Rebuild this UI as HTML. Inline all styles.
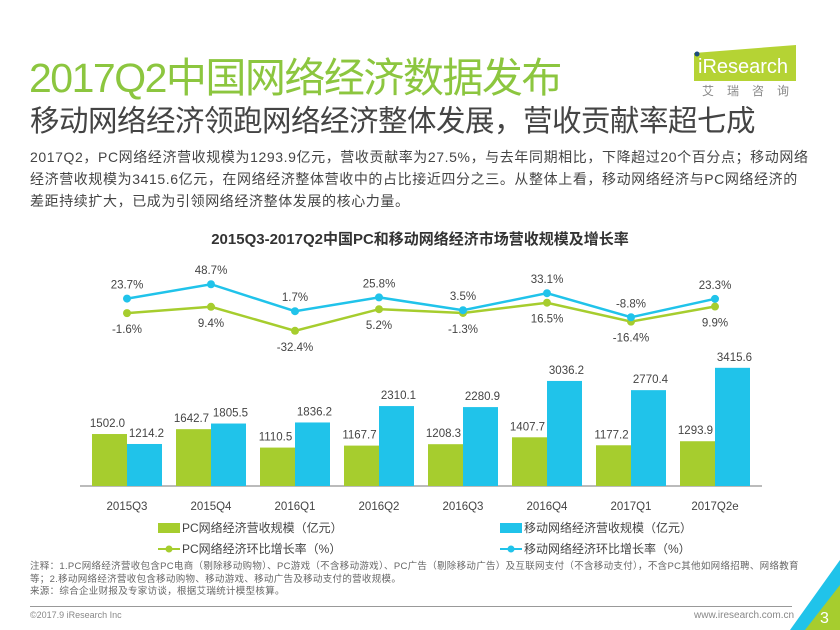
<!DOCTYPE html>
<html><head><meta charset="utf-8">
<style>
body{margin:0;width:840px;height:630px;background:#fff;overflow:hidden;font-family:"Liberation Sans","Noto Sans CJK SC",sans-serif;position:relative}
.abs{position:absolute}
</style></head><body>
<div class="abs" style="left:29px;top:44px;font-size:41px;color:#8cc63f;letter-spacing:-1.5px;white-space:nowrap">2017Q2中国网络经济数据发布</div>
<div class="abs" style="left:690px;top:45px;width:106px;height:36px">
<svg width="106" height="36"><polygon points="4,8 106,0 106,36 4,36" fill="#b5d334"/><circle cx="7" cy="9" r="2.5" fill="#1b4b7e"/><text x="8" y="28" font-size="20" fill="#fff" font-family="Liberation Sans,sans-serif">iResearch</text></svg>
</div>
<div class="abs" style="left:702px;top:82px;font-size:12px;color:#888;letter-spacing:13px">艾瑞咨询</div>
<div class="abs" style="left:30px;top:98px;font-size:29.5px;color:#444;white-space:nowrap;letter-spacing:-0.5px">移动网络经济领跑网络经济整体发展，营收贡献率超七成</div>
<div class="abs" style="left:30px;top:146px;font-size:14px;line-height:22px;color:#444;white-space:nowrap;letter-spacing:0.6px">2017Q2，PC网络经济营收规模为1293.9亿元，营收贡献率为27.5%，与去年同期相比，下降超过20个百分点；移动网络<br>经济营收规模为3415.6亿元，在网络经济整体营收中的占比接近四分之三。从整体上看，移动网络经济与PC网络经济的<br>差距持续扩大，已成为引领网络经济整体发展的核心力量。</div>
<div class="abs" style="left:0;width:840px;top:228px;text-align:center;font-size:15px;font-weight:bold;color:#333">2015Q3-2017Q2中国PC和移动网络经济市场营收规模及增长率</div>
<svg class="abs" id="chart" style="left:0;top:0" width="840" height="630"></svg>
<div class="abs" style="left:0;top:0;width:840px;height:630px;font-size:12px;color:#444">
<div class="abs" style="left:158px;top:519px"><span style="display:inline-block;width:22px;height:10px;background:#a6cd2e;vertical-align:-1px;margin-right:2px"></span>PC网络经济营收规模（亿元）</div>
<div class="abs" style="left:500px;top:519px"><span style="display:inline-block;width:22px;height:10px;background:#20c3ea;vertical-align:-1px;margin-right:2px"></span>移动网络经济营收规模（亿元）</div>
<div class="abs" style="left:158px;top:540px"><svg width="22" height="10" style="vertical-align:-1px;margin-right:2px"><line x1="0" y1="5" x2="22" y2="5" stroke="#a6cd2e" stroke-width="2"/><circle cx="11" cy="5" r="3.5" fill="#a6cd2e"/></svg>PC网络经济环比增长率（%）</div>
<div class="abs" style="left:500px;top:540px"><svg width="22" height="10" style="vertical-align:-1px;margin-right:2px"><line x1="0" y1="5" x2="22" y2="5" stroke="#20c3ea" stroke-width="2"/><circle cx="11" cy="5" r="3.5" fill="#20c3ea"/></svg>移动网络经济环比增长率（%）</div>
</div>
<div class="abs" style="left:30px;top:561px;font-size:9.5px;line-height:12.5px;color:#666;white-space:nowrap;letter-spacing:0.3px">注释：1.PC网络经济营收包含PC电商（剔除移动购物）、PC游戏（不含移动游戏）、PC广告（剔除移动广告）及互联网支付（不含移动支付），不含PC其他如网络招聘、网络教育<br>等；2.移动网络经济营收包含移动购物、移动游戏、移动广告及移动支付的营收规模。<br>来源：综合企业财报及专家访谈，根据艾瑞统计模型核算。</div>
<div class="abs" style="left:30px;top:606px;width:762px;height:1px;background:#999"></div>
<div class="abs" style="left:30px;top:610px;font-size:9px;color:#888">©2017.9 iResearch Inc</div>
<div class="abs" style="left:694px;top:610px;font-size:10px;color:#888">www.iresearch.com.cn</div>
<svg class="abs" style="left:790px;top:560px" width="50" height="70"><polygon points="50,0 50,30 20,70 0,70" fill="#20c3ea"/><polygon points="50,25 50,70 15,70" fill="#a6cd2e"/><text x="30" y="63" font-size="16" fill="#fff">3</text></svg>
<script>
const categories=["2015Q3","2015Q4","2016Q1","2016Q2","2016Q3","2016Q4","2017Q1","2017Q2e"];
const pcRevenue=[1502.0,1642.7,1110.5,1167.7,1208.3,1407.7,1177.2,1293.9];
const mobileRevenue=[1214.2,1805.5,1836.2,2310.1,2280.9,3036.2,2770.4,3415.6];
const pcGrowth=[-1.6,9.4,-32.4,5.2,-1.3,16.5,-16.4,9.9];
const mobileGrowth=[23.7,48.7,1.7,25.8,3.5,33.1,-8.8,23.3];
const svg=document.getElementById('chart');const NS='http://www.w3.org/2000/svg';
const base=486, x0=127, step=84, bw=35;
const xC=i=>x0+i*step;
const yR=v=>base-v*0.0346;
const yG=v=>312.2-v*0.574;
function mk(t,a){const e=document.createElementNS(NS,t);for(const k in a)e.setAttribute(k,a[k]);svg.appendChild(e);return e;}
function txt(x,y,s,anchor){const e=mk('text',{x:x,y:y,'font-size':11.5,fill:'#444','text-anchor':anchor||'middle','font-family':'Liberation Sans,sans-serif'});e.textContent=s;return e;}
const ax=mk('line',{x1:80,y1:base,x2:762,y2:base,stroke:'#777','stroke-width':1});


categories.forEach((c,i)=>{
 const t=txt(xC(i),510,c);
 
 
 const b1=mk('rect',{x:xC(i)-bw,y:yR(pcRevenue[i]),width:bw,height:base-yR(pcRevenue[i]),fill:'#a6cd2e'});
 
 
 const b2=mk('rect',{x:xC(i),y:yR(mobileRevenue[i]),width:bw,height:base-yR(mobileRevenue[i]),fill:'#20c3ea'});
 
 
 const l1=txt(xC(i)-bw/2-2,yR(pcRevenue[i])-7,pcRevenue[i].toFixed(1));
 
 
 const l2=txt(xC(i)+bw/2+2,yR(mobileRevenue[i])-7,mobileRevenue[i].toFixed(1));
 
 
});
function series(vals,color,name,above){
 const p=mk('polyline',{points:vals.map((v,i)=>xC(i)+','+yG(v)).join(' '),fill:'none',stroke:color,'stroke-width':2.5});
 
 
 vals.forEach((v,i)=>{
  const c=mk('circle',{cx:xC(i),cy:yG(v),r:4,fill:color});
  
  
  const t=txt(xC(i),above?yG(v)-10:yG(v)+20,v.toFixed(1)+'%');
  
  
 });
}
series(pcGrowth,'#a6cd2e','pc-growth',false);
series(mobileGrowth,'#20c3ea','mobile-growth',true);
</script>
</body></html>
